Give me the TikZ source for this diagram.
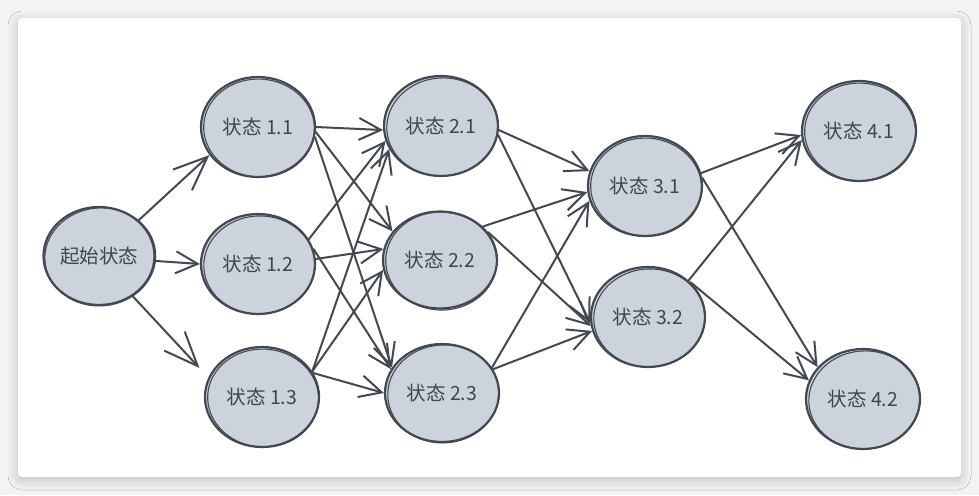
\documentclass[tikz,border=0pt]{standalone}
\usepackage{fontspec}
\setmainfont{Noto Sans CJK SC}
\usetikzlibrary{arrows.meta,shapes.geometric,shadows.blur}
\definecolor{bg}{HTML}{F3F3F3}
\definecolor{nodefill}{HTML}{CDD3DC}
\definecolor{ink}{HTML}{434950}
\definecolor{txt}{HTML}{41464D}
\begin{document}
\begin{tikzpicture}[x=1pt,y=-1pt,
  state/.style={ellipse, draw=ink, fill=nodefill, line width=2.2pt, minimum width=114pt, minimum height=100pt, inner sep=0pt, text=txt, font=\fontsize{19.5}{22}\selectfont},
  edge/.style={draw=ink, line width=2pt, line cap=round, line join=round, -{Straight Barb[length=22pt,width=22pt]}},
  bigedge/.style={edge, -{Straight Barb[length=34pt,width=28pt]}},
  sk/.style={draw=ink, line width=1.1pt}
]
\fill[bg] (0,0) rectangle (979,495);
\fill[white, rounded corners=4pt, blur shadow={shadow xshift=0pt, shadow yshift=-3pt, shadow blur radius=10pt, shadow opacity=22}] (18,18) rectangle (961,477);
\useasboundingbox (0,0) rectangle (979,495);

\node[state, minimum width=111pt, minimum height=98pt] (s) at (99,256) {起始状态};
\node[state] (n11) at (258,127) {状态 1.1};
\node[state] (n12) at (258,264) {状态 1.2};
\node[state] (n13) at (262,397) {状态 1.3};
\node[state] (n21) at (441,126) {状态 2.1};
\node[state, minimum height=97pt] (n22) at (440,260) {状态 2.2};
\node[state, minimum height=98pt] (n23) at (442,393) {状态 2.3};
\node[state] (n31) at (645,186) {状态 3.1};
\node[state] (n32) at (648,317) {状态 3.2};
\node[state] (n41) at (859,131) {状态 4.1};
\node[state] (n42) at (863,399) {状态 4.2};

% sketchy second outlines
\foreach \n/\a in {s/5,n11/-4,n12/3,n13/-3,n21/4,n22/-2,n23/3,n31/-4,n32/3,n41/-3,n42/4}{
  \draw[sk, rotate around={\a:(\n.center)}] ([shift={(1.2pt,-1pt)}]\n.center) ellipse [x radius=55.5pt, y radius=49pt];
}

% start -> layer 1
\draw[bigedge] (s.42) -- (n11.210);
\draw[edge] (s.-5) -- (n12.180);
\draw[bigedge, shorten >=13pt] (s.-50) -- (n13.160);

% layer 1 -> layer 2
\draw[edge] (n11.0) -- (n21.184);
\draw[edge] (n11.-5) -- (n22.149);
\draw[edge] (n11.-10) -- (n23.153);
\draw[edge] (n12.26) -- (n21.195);
\draw[edge] (n12.5) -- (n22.169);
\draw[edge] (n12.15) -- (n23.155);
\draw[edge] (n13.27) -- (n21.204);
\draw[edge] (n13.27) -- (n22.190);
\draw[edge] (n13.25) -- (n23.180);

% layer 2 -> layer 3
\draw[edge] (n21.-4) -- (n31.165);
\draw[edge] (n21.-9) -- (n32.186);
\draw[edge] (n22.38) -- (n31.186);
\draw[edge] (n22.30) -- (n32.189);
\draw[edge] (n23.27) -- (n31.195);
\draw[edge] (n23.25) -- (n32.194);

% layer 3 -> layer 4
\draw[edge] (n31.13) -- (n41.184);
\draw[edge] (n31.8) -- (n42.145);
\draw[edge] (n32.42) -- (n41.189);
\draw[edge] (n32.39) -- (n42.161);
\end{tikzpicture}
\end{document}
